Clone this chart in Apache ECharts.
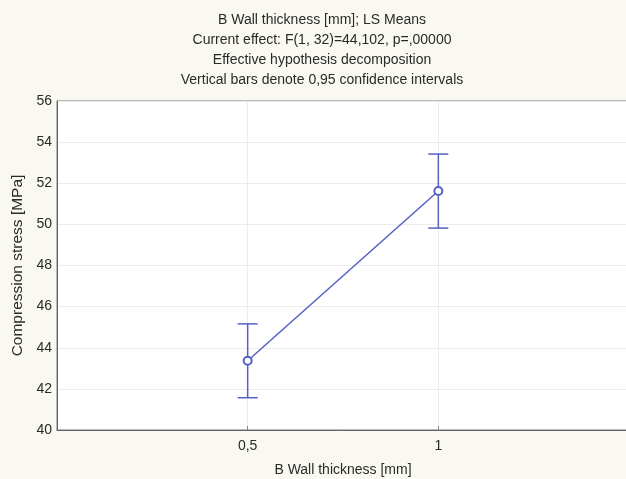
<!DOCTYPE html>
<html><head><meta charset="utf-8">
<script src="https://cdn.jsdelivr.net/npm/echarts@6/dist/echarts.min.js"></script>
<style>html,body{margin:0;padding:0;background:#faf9f1;}#c{width:626px;height:479px;}</style>
</head><body><div id="c"></div>
<script>
var titleLines = ['B Wall thickness [mm]; LS Means','Current effect: F(1, 32)=44,102, p=,00000','Effective hypothesis decomposition','Vertical bars denote 0,95 confidence intervals'];
var xValues = [0.5, 1];
var means = [43.37, 51.62];
var lower = [41.57, 49.82];
var upper = [45.16, 53.42];
var yTicks = [40, 42, 44, 46, 48, 50, 52, 54, 56];
var xTickLabels = {'0.5':'0,5','1':'1'};
var col = '#5560c0';
var txt = '#2a2a2a';
var chart = echarts.init(document.getElementById('c'));
chart.setOption({
  backgroundColor:'#faf9f1',
  animation:false,
  title:{text:titleLines.join('\n'),left:322,top:10,padding:0,textAlign:'center',textStyle:{fontFamily:'Liberation Sans',fontSize:14,fontWeight:'normal',color:txt,lineHeight:20}},
  grid:{left:57,right:-3,top:101,bottom:49,show:true,backgroundColor:'#fff',borderColor:'#777',borderWidth:1,containLabel:false,outerBoundsMode:'none'},
  xAxis:{type:'value',min:0,max:1.5,interval:0.5,name:'B Wall thickness [mm]',nameLocation:'middle',nameGap:33,
    nameTextStyle:{fontFamily:'Liberation Sans',fontSize:14,color:txt},
    axisLine:{show:true,lineStyle:{color:'#666'}},
    axisTick:{show:true,inside:true,length:4,lineStyle:{color:'#888'}},
    axisLabel:{fontFamily:'Liberation Sans',fontSize:14,color:txt,margin:9,showMinLabel:false,showMaxLabel:false,formatter:function(v){return xTickLabels[String(v)]||'';}},
    splitLine:{show:true,lineStyle:{color:'#ececec'}}},
  yAxis:{type:'value',min:yTicks[0],max:yTicks[yTicks.length-1],interval:2,name:'Compression stress [MPa]',nameLocation:'middle',nameGap:29,
    nameTextStyle:{fontFamily:'Liberation Sans',fontSize:15.5,color:txt},
    axisLine:{show:true,lineStyle:{color:'#666'}},
    axisTick:{show:false},
    axisLabel:{fontFamily:'Liberation Sans',fontSize:14,color:txt,margin:5},
    splitLine:{show:true,lineStyle:{color:'#ececec'}}},
  series:[
    {type:'custom',z:2,data:xValues.map(function(x,i){return [x,lower[i],upper[i]];}),
      renderItem:function(params,api){
        var lo=api.coord([api.value(0),api.value(1)]);
        var hi=api.coord([api.value(0),api.value(2)]);
        var w=10;
        var st={stroke:col,lineWidth:1.5};
        return {type:'group',children:[
          {type:'line',shape:{x1:hi[0],y1:hi[1],x2:lo[0],y2:lo[1]},style:st},
          {type:'line',shape:{x1:hi[0]-w,y1:hi[1],x2:hi[0]+w,y2:hi[1]},style:st},
          {type:'line',shape:{x1:lo[0]-w,y1:lo[1],x2:lo[0]+w,y2:lo[1]},style:st}
        ]};
      }},
    {type:'line',z:3,data:xValues.map(function(x,i){return [x,means[i]];}),symbol:'emptyCircle',symbolSize:8,
      lineStyle:{color:col,width:1.5},itemStyle:{color:col,borderColor:col,borderWidth:1.5}}
  ]
});
</script></body></html>
